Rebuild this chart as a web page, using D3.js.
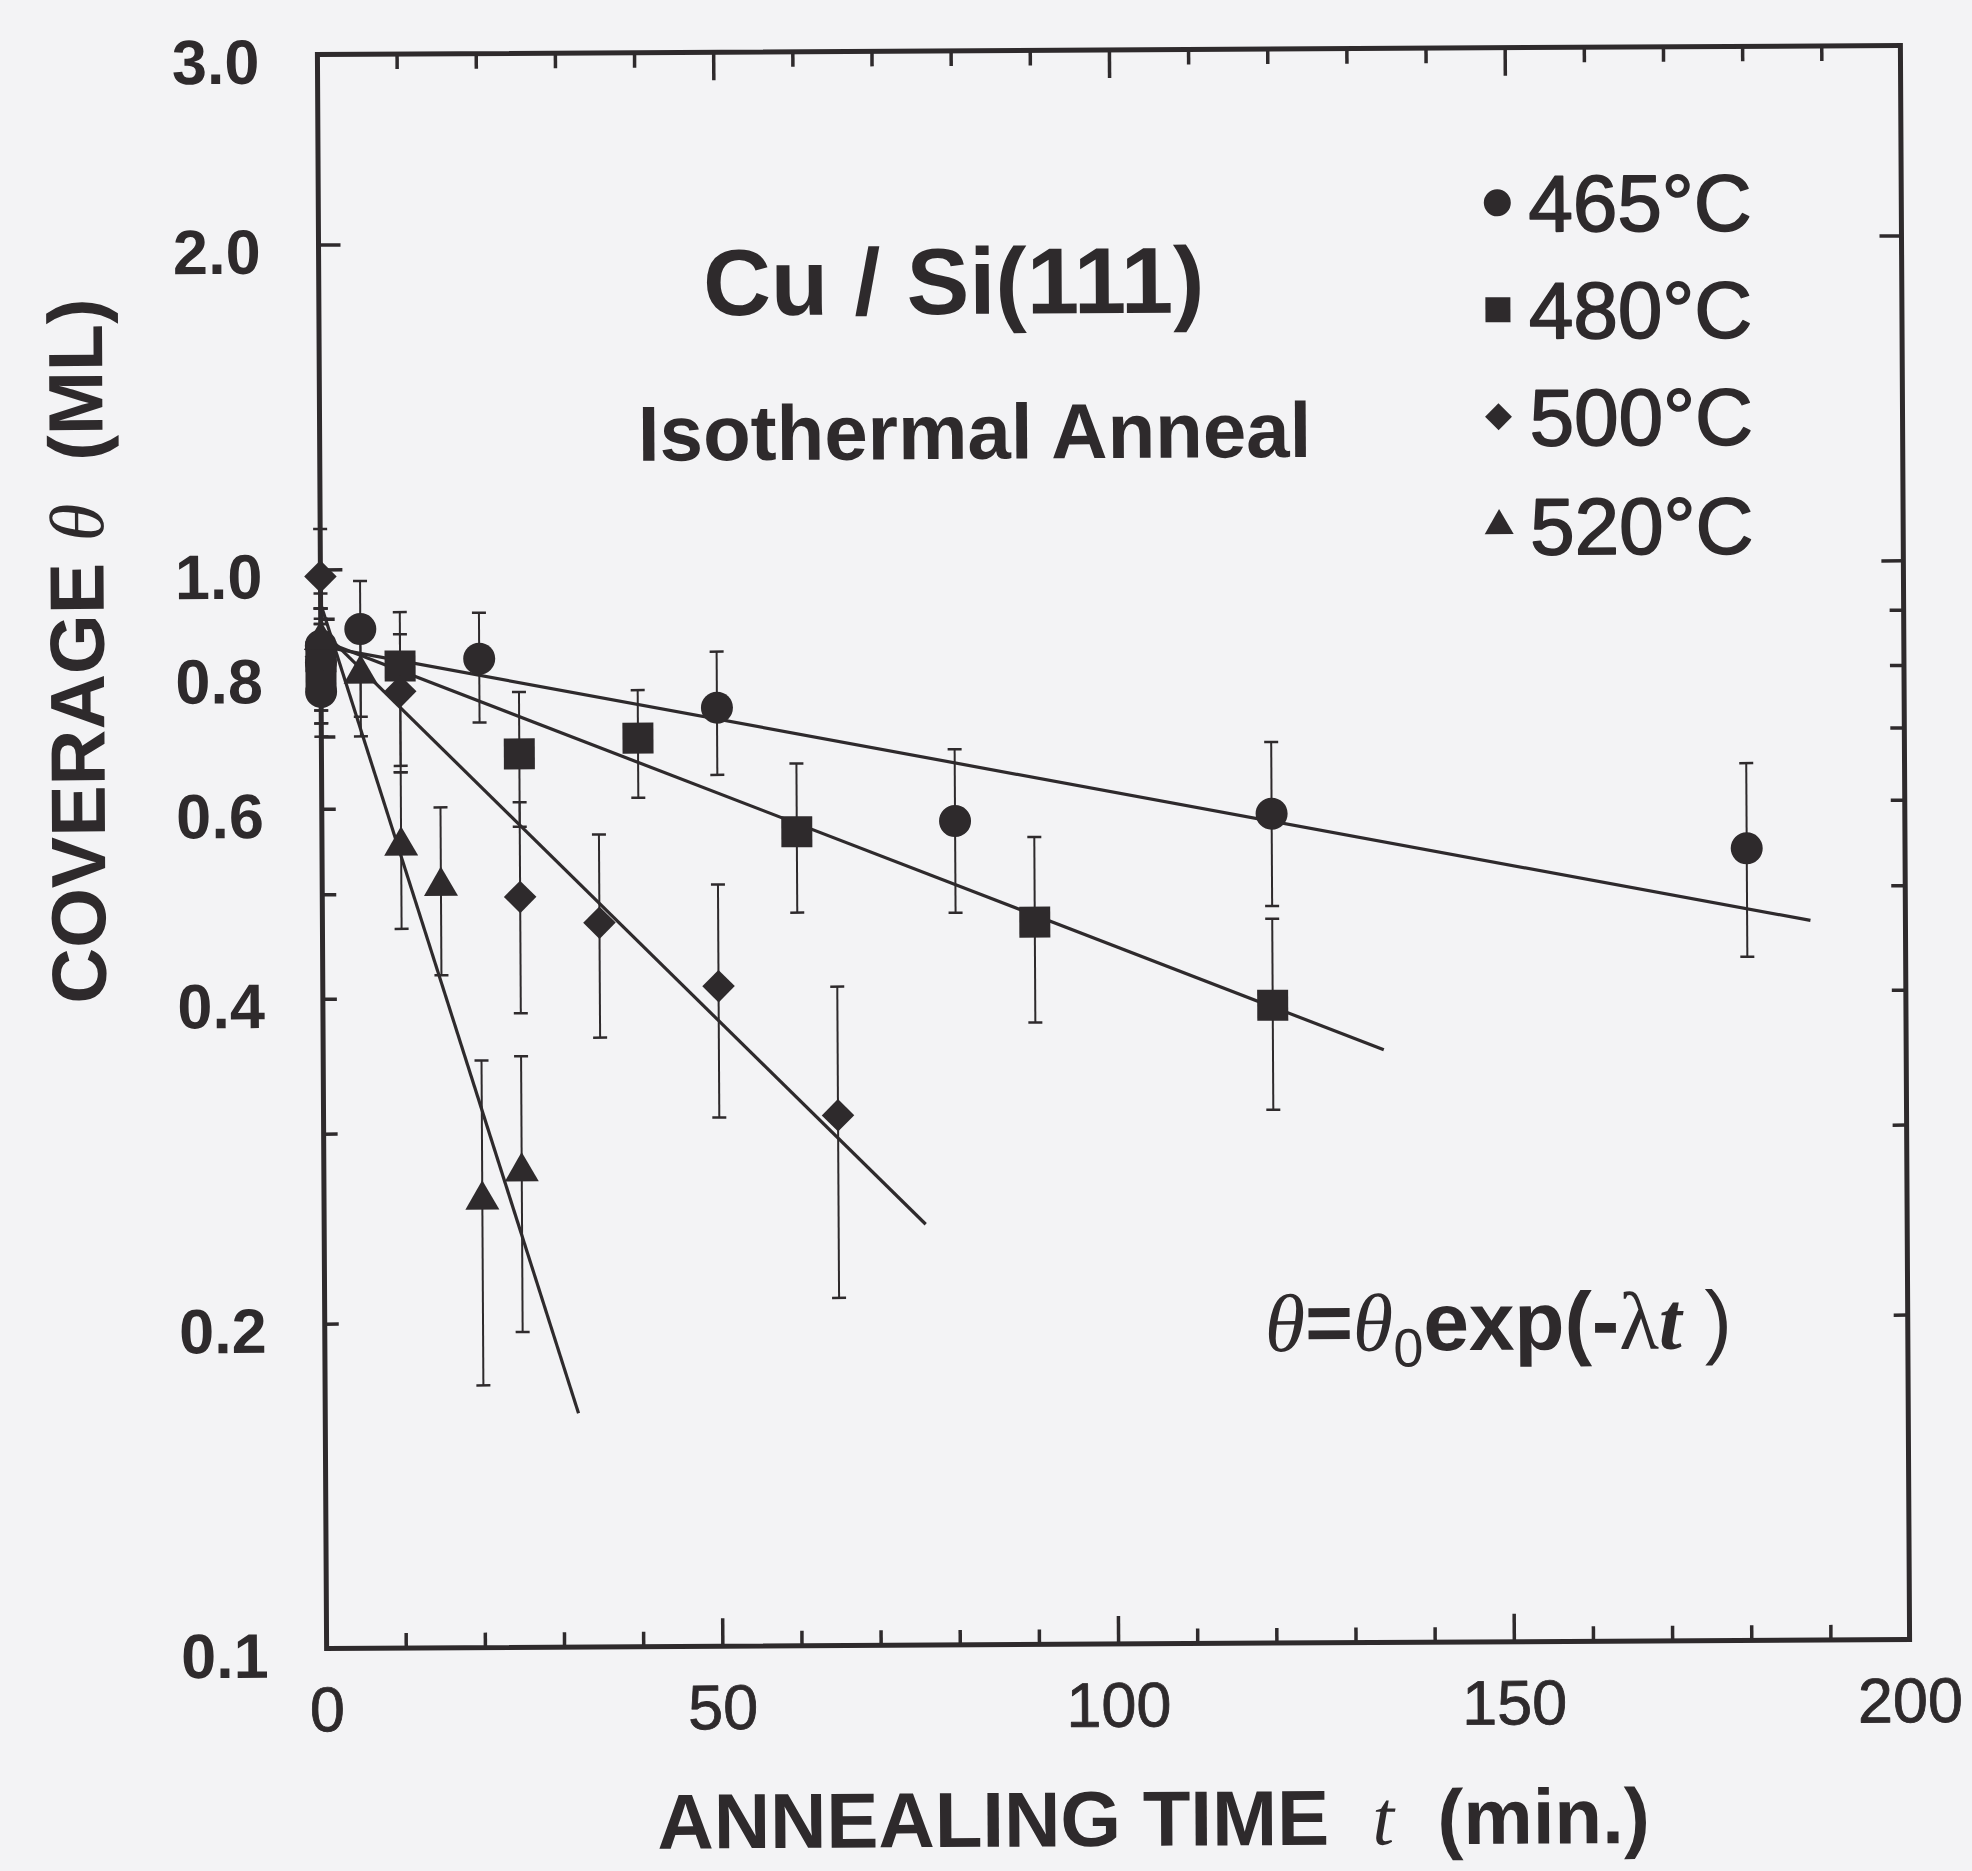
<!DOCTYPE html>
<html>
<head>
<meta charset="utf-8">
<script src="https://cdn.jsdelivr.net/npm/d3@7"></script>
<style>
  body { margin: 0; background: #f3f3f5; }
  svg { display: block; }
  text { fill: #2e2a2c; font-family: "Liberation Sans", Arial, Helvetica, sans-serif; }
</style>
</head>
<body>
<svg id="chart" width="1972" height="1871"></svg>
<script>
// each row: [t (min), coverage (ML), error low, error high]
var s465 = [
  [0, 0.85, 0.78, 0.92], [0, 0.82, 0.74, 0.90], [0, 0.77, 0.70, 0.85],
  [5, 0.88, 0.70, 0.975], [20, 0.825, 0.72, 0.91], [50, 0.741, 0.642, 0.835],
  [80, 0.580, 0.477, 0.676], [120, 0.587, 0.482, 0.684], [180, 0.542, 0.430, 0.650]
];
var s480 = [
  [0, 0.83, 0.74, 0.92], [0, 0.80, 0.72, 0.89], [10, 0.813, 0.657, 0.912],
  [25, 0.673, 0.576, 0.768], [40, 0.695, 0.612, 0.770], [60, 0.568, 0.478, 0.657],
  [90, 0.467, 0.377, 0.560], [120, 0.390, 0.312, 0.469]
];
var s500 = [
  [0, 0.985, 0.89, 1.09], [0, 0.83, 0.72, 0.92], [10, 0.770, 0.648, 0.870],
  [25, 0.496, 0.387, 0.607], [35, 0.469, 0.367, 0.566], [50, 0.409, 0.309, 0.508],
  [65, 0.310, 0.210, 0.408]
];
var s520 = [
  [0, 0.86, 0.76, 0.95], [5, 0.80, 0.73, 0.88], [10, 0.554, 0.464, 0.648],
  [15, 0.508, 0.420, 0.601], [20, 0.260, 0.175, 0.350], [25, 0.276, 0.196, 0.353]
];

// exponential fits theta = theta0 * exp(-lambda t), drawn from t=0 to fitEnd
var fitTheta0 = [0.849, 0.86, 0.88, 0.93];
var fitLambda = [0.00321, 0.00662, 0.0168, 0.0541];
var fitEnd = [188, 134, 76, 32];

var legendLabels = ["465°C", "480°C", "500°C", "520°C"];
var xLabelTicks = [0, 50, 100, 150, 200];
var yLabelTicks = [0.1, 0.2, 0.4, 0.6, 0.8, 1.0, 2.0, 3.0];
var yMajorTicks = [1.0, 2.0];
var yMinorTicks = [0.2, 0.3, 0.4, 0.5, 0.6, 0.7, 0.8, 0.9];

var ink = "#2e2a2c";
var plotL = 322, plotR = 1905, plotT = 50, plotB = 1644;

var x = d3.scaleLinear().domain([0, 200]).range([plotL, plotR]);
var y = d3.scaleLog().domain([0.1, 3]).range([plotB, plotT]);

var svg = d3.select("#chart");
svg.append("rect").attr("width", 1972).attr("height", 1871).attr("fill", "#f3f3f5");

// the scanned figure is tilted slightly
var g = svg.append("g").attr("transform", "rotate(-0.33 1113 847)");

function styleAxis(sel) {
  sel.select(".domain").remove();
  sel.selectAll(".tick line").attr("stroke", ink).attr("stroke-width", 3.5);
  sel.selectAll(".tick text").attr("fill", ink);
}

// regular face thickened a little, the print looks like a medium weight
function medium(sel, w) {
  sel.attr("stroke", ink).attr("stroke-width", w).attr("stroke-linejoin", "round");
}

var minorX = d3.range(10, 200, 10).filter(function (d) { return d % 50 !== 0; });
var majorX = [50, 100, 150];

// bottom
g.append("g").attr("transform", "translate(0," + plotB + ")")
  .call(d3.axisBottom(x).tickValues(minorX).tickSize(-15).tickFormat(""))
  .call(styleAxis);
g.append("g").attr("transform", "translate(0," + plotB + ")")
  .call(d3.axisBottom(x).tickValues(majorX).tickSize(-28).tickFormat(""))
  .call(styleAxis);
// top
g.append("g").attr("transform", "translate(0," + plotT + ")")
  .call(d3.axisTop(x).tickValues(minorX).tickSize(-15).tickFormat(""))
  .call(styleAxis);
g.append("g").attr("transform", "translate(0," + plotT + ")")
  .call(d3.axisTop(x).tickValues(majorX).tickSize(-28).tickFormat(""))
  .call(styleAxis);
// left / right
[[d3.axisLeft, plotL], [d3.axisRight, plotR]].forEach(function (a) {
  g.append("g").attr("transform", "translate(" + a[1] + ",0)")
    .call(a[0](y).tickValues(yMinorTicks).tickSize(-14).tickFormat(""))
    .call(styleAxis);
  g.append("g").attr("transform", "translate(" + a[1] + ",0)")
    .call(a[0](y).tickValues(yMajorTicks).tickSize(-22).tickFormat(""))
    .call(styleAxis);
});

// tick labels
g.append("g").attr("transform", "translate(0," + plotB + ")")
  .call(d3.axisBottom(x).tickValues(xLabelTicks).tickSize(0).tickPadding(38).tickFormat(d3.format("d")))
  .call(styleAxis)
  .selectAll("text").attr("font-size", 63).attr("font-family", "Liberation Sans, Arial, sans-serif")
  .call(medium, 0.8);
g.append("g").attr("transform", "translate(" + plotL + ",0)")
  .call(d3.axisLeft(y).tickValues(yLabelTicks).tickSize(0).tickPadding(58).tickFormat(d3.format(".1f")))
  .call(styleAxis)
  .selectAll("text").attr("font-size", 63).attr("font-weight", "bold")
  .attr("font-family", "Liberation Sans, Arial, sans-serif").attr("dy", "0.45em");

// frame
g.append("rect").attr("x", plotL).attr("y", plotT)
  .attr("width", plotR - plotL).attr("height", plotB - plotT)
  .attr("fill", "none").attr("stroke", ink).attr("stroke-width", 5);

// fit lines
g.selectAll("line.fit").data(fitTheta0).enter().append("line")
  .attr("class", "fit")
  .attr("x1", x(0))
  .attr("y1", function (d) { return y(d); })
  .attr("x2", function (d, i) { return x(fitEnd[i]); })
  .attr("y2", function (d, i) { return y(d * Math.exp(-fitLambda[i] * fitEnd[i])); })
  .attr("stroke", ink).attr("stroke-width", 3.2);

var series = [
  { data: s465, type: d3.symbolCircle, size: Math.PI * 16 * 16, rot: 0 },
  { data: s480, type: d3.symbolSquare, size: 31 * 31, rot: 0 },
  { data: s500, type: d3.symbolSquare, size: 23 * 23, rot: 45 },
  { data: s520, type: d3.symbolTriangle, size: 0.433 * 34 * 34, rot: 0 }
];

series.forEach(function (s) {
  var eg = g.append("g");
  var rows = eg.selectAll("g").data(s.data).enter().append("g");
  rows.append("line")
    .attr("x1", function (d) { return x(d[0]); }).attr("x2", function (d) { return x(d[0]); })
    .attr("y1", function (d) { return y(d[2]); }).attr("y2", function (d) { return y(d[3]); })
    .attr("stroke", ink).attr("stroke-width", 2);
  [2, 3].forEach(function (k) {
    rows.append("line")
      .attr("x1", function (d) { return x(d[0]) - 7; }).attr("x2", function (d) { return x(d[0]) + 7; })
      .attr("y1", function (d) { return y(d[k]); }).attr("y2", function (d) { return y(d[k]); })
      .attr("stroke", ink).attr("stroke-width", 2.5);
  });
});

series.forEach(function (s) {
  g.append("g").selectAll("path").data(s.data).enter().append("path")
    .attr("d", d3.symbol().type(s.type).size(s.size))
    .attr("transform", function (d) { return "translate(" + x(d[0]) + "," + y(d[1]) + ") rotate(" + s.rot + ")"; })
    .attr("fill", ink);
});

// legend
var legendY = [205, 312, 419, 528];
var legendSymbols = [
  { type: d3.symbolCircle, size: Math.PI * 13.5 * 13.5, rot: 0 },
  { type: d3.symbolSquare, size: 25 * 25, rot: 0 },
  { type: d3.symbolSquare, size: 19 * 19, rot: 45 },
  { type: d3.symbolTriangle, size: 0.433 * 29 * 29, rot: 0 }
];
var lg = g.append("g").selectAll("g").data(legendLabels).enter().append("g")
  .attr("transform", function (d, i) { return "translate(1501," + legendY[i] + ")"; });
lg.append("path")
  .attr("d", function (d, i) { return d3.symbol().type(legendSymbols[i].type).size(legendSymbols[i].size)(); })
  .attr("transform", function (d, i) { return "rotate(" + legendSymbols[i].rot + ")"; })
  .attr("fill", ink);
lg.append("text").attr("x", 31).attr("y", 29)
  .attr("font-size", 80).text(function (d) { return d; })
  .call(medium, 1.6);

// annotations
g.append("text").attr("x", 957).attr("y", 313).attr("text-anchor", "middle")
  .attr("font-size", 94).attr("font-weight", "bold").text("Cu / Si(111)");
g.append("text").attr("x", 977).attr("y", 458).attr("text-anchor", "middle")
  .attr("font-size", 78).attr("font-weight", "bold").text("Isothermal Anneal");

var f = g.append("text").attr("x", 1262).attr("y", 1352).attr("font-size", 82).attr("font-weight", "bold");
f.append("tspan").attr("font-family", "Liberation Serif, serif").attr("font-style", "italic").attr("font-weight", "normal").text("θ");
f.append("tspan").text("=");
f.append("tspan").attr("font-family", "Liberation Serif, serif").attr("font-style", "italic").attr("font-weight", "normal").text("θ");
f.append("tspan").attr("font-size", 54).attr("font-weight", "normal").attr("dy", 16).text("0");
f.append("tspan").attr("dy", -16).text("exp(-");
f.append("tspan").attr("font-family", "Liberation Serif, serif").attr("font-weight", "normal").text("λ");
f.append("tspan").attr("font-family", "Liberation Serif, serif").attr("font-style", "italic").text("t");
f.append("tspan").attr("font-weight", "normal").text("\u00a0)");

// axis titles
var xt = g.append("text").attr("x", 1148).attr("y", 1846).attr("text-anchor", "middle")
  .attr("font-size", 78).attr("font-weight", "bold");
xt.append("tspan").text("ANNEALING TIME\u00a0\u00a0");
xt.append("tspan").attr("font-style", "italic").attr("font-weight", "normal")
  .attr("font-family", "Liberation Serif, serif").text("t");
xt.append("tspan").text("\u00a0\u00a0(min.)");

var yt = g.append("text").attr("transform", "translate(105,645) rotate(-90)")
  .attr("text-anchor", "middle").attr("font-size", 77).attr("font-weight", "bold");
yt.append("tspan").text("COVERAGE\u00a0");
yt.append("tspan").attr("font-style", "italic").attr("font-weight", "normal")
  .attr("font-family", "Liberation Serif, serif").text("θ");
yt.append("tspan").text("\u00a0\u00a0(ML)");
</script>
</body>
</html>
